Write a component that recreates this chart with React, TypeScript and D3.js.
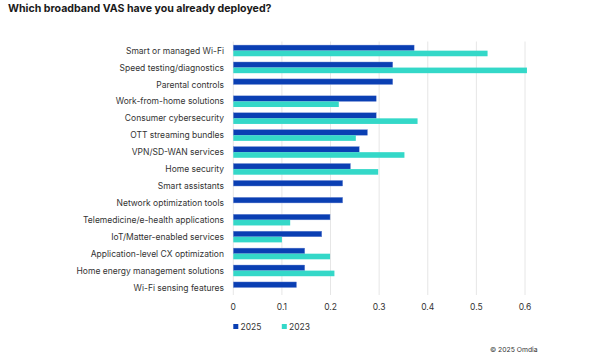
import React from "react";
import * as d3 from "d3";

const categories = [
  "Smart or managed Wi-Fi",
  "Speed testing/diagnostics",
  "Parental controls",
  "Work-from-home solutions",
  "Consumer cybersecurity",
  "OTT streaming bundles",
  "VPN/SD-WAN services",
  "Home security",
  "Smart assistants",
  "Network optimization tools",
  "Telemedicine/e-health applications",
  "IoT/Matter-enabled services",
  "Application-level CX optimization",
  "Home energy management solutions",
  "Wi-Fi sensing features",
];
const values2025 = [0.372, 0.328, 0.328, 0.294, 0.294, 0.276, 0.259, 0.241, 0.225, 0.225, 0.199, 0.182, 0.147, 0.147, 0.13];
const values2023: (number | null)[] = [0.523, 0.604, null, 0.217, 0.379, 0.252, 0.352, 0.298, null, null, 0.117, 0.1, 0.199, 0.208, null];
const xTicks = [0, 0.1, 0.2, 0.3, 0.4, 0.5, 0.6];
const seriesNames = ["2025", "2023"];
const colors = ["#0a3fb3", "#34d8c8"];

export default function App() {
  const W = 600, H = 363;
  const font = "Inter, 'Noto Sans', Arial, sans-serif";
  const x = d3.scaleLinear().domain([0, 0.6]).range([233.3, 525]);
  const y = d3.scaleBand().domain(categories).range([42.2, 296]).paddingInner(0).paddingOuter(0);
  const barH = 5.6;
  return (
    <svg width={W} height={H} style={{ position: "absolute", left: 0, top: 0, background: "#fff" }}>
      <text x={8} y={12} fontFamily={font} fontWeight={700} fontSize={10.6} fill="#1a1a1a">
        Which broadband VAS have you already deployed?
      </text>
      {xTicks.map((t) => (
        <g key={t}>
          <line x1={x(t)} x2={x(t)} y1={41.5} y2={295} stroke="#e6e6e6" strokeWidth={1} />
          <text x={x(t)} y={310} fontFamily={font} fontSize={8.5} fill="#333" textAnchor="middle">
            {t === 0 ? "0" : d3.format(".1f")(t)}
          </text>
        </g>
      ))}
      {categories.map((c, i) => {
        const yc = (y(c) as number) + y.bandwidth() / 2;
        const v23 = values2023[i];
        return (
          <g key={c}>
            <text x={224} y={yc + 3} fontFamily={font} fontSize={8.5} fill="#333" textAnchor="end">
              {c}
            </text>
            <rect x={x(0)} y={yc - barH} width={x(values2025[i]) - x(0)} height={barH} fill={colors[0]} stroke="#7d95d6" strokeWidth={0.4} />
            {v23 != null && (
              <rect x={x(0)} y={yc} width={x(v23) - x(0)} height={barH} fill={colors[1]} />
            )}
          </g>
        );
      })}
      {seriesNames.map((s, i) => (
        <g key={s}>
          <rect x={233.3 + i * 48.5} y={324} width={5} height={5} fill={colors[i]} />
          <text x={240.5 + i * 48.5} y={329.5} fontFamily={font} fontSize={8.5} fill="#333">{s}</text>
        </g>
      ))}
      <text x={490} y={352} fontFamily={font} fontSize={6.8} fill="#333">© 2025 Omdia</text>
    </svg>
  );
}
